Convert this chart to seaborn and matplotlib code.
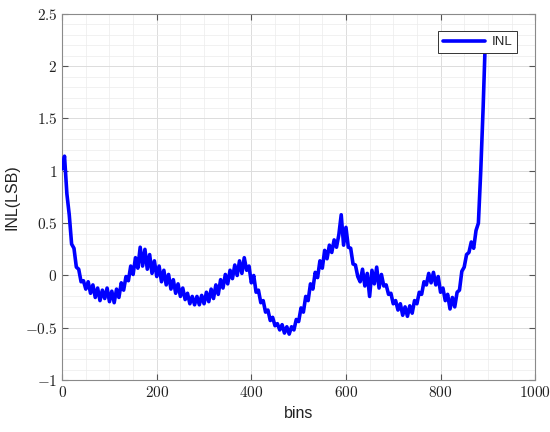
import matplotlib
matplotlib.use("Agg")
import matplotlib.pyplot as plt
import pandas as pd
import seaborn as sns
from matplotlib.ticker import FuncFormatter, MultipleLocator

# INL curve, every 5 bins (noise band kept as zig-zag)
bins = list(range(0, 900, 5))
inl = [
    1.02, 1.14, 0.78, 0.58, 0.30, 0.26, 0.08, 0.06, -0.06, -0.05,
    -0.13, -0.06, -0.17, -0.09, -0.21, -0.12, -0.24, -0.14, -0.22, -0.12,
    -0.25, -0.15, -0.26, -0.13, -0.21, -0.07, -0.14, -0.01, -0.05, 0.09,
    0.01, 0.17, 0.07, 0.27, 0.09, 0.25, 0.06, 0.20, 0.02, 0.14,
    -0.01, 0.09, -0.06, 0.05, -0.09, 0.01, -0.13, -0.04, -0.17, -0.08,
    -0.20, -0.12, -0.23, -0.17, -0.27, -0.20, -0.28, -0.20, -0.28, -0.19,
    -0.27, -0.16, -0.25, -0.13, -0.22, -0.09, -0.18, -0.04, -0.12, 0.01,
    -0.08, 0.05, -0.03, 0.10, 0.00, 0.14, 0.02, 0.17, 0.05, 0.09,
    -0.07, 0.00, -0.16, -0.14, -0.26, -0.24, -0.35, -0.33, -0.43, -0.40,
    -0.48, -0.46, -0.52, -0.47, -0.55, -0.49, -0.56, -0.49, -0.52, -0.42,
    -0.44, -0.31, -0.35, -0.20, -0.24, -0.08, -0.13, 0.03, -0.02, 0.14,
    0.07, 0.24, 0.16, 0.29, 0.22, 0.34, 0.27, 0.39, 0.58, 0.29,
    0.46, 0.27, 0.26, 0.11, 0.10, -0.01, -0.06, 0.06, -0.10, 0.02,
    -0.20, 0.05, -0.08, 0.08, -0.12, 0.01, -0.10, -0.09, -0.18, -0.17,
    -0.27, -0.24, -0.33, -0.27, -0.38, -0.30, -0.39, -0.29, -0.36, -0.24,
    -0.27, -0.16, -0.18, -0.06, -0.09, 0.02, -0.07, 0.03, -0.09, -0.01,
    -0.16, -0.12, -0.24, -0.18, -0.32, -0.21, -0.30, -0.16, -0.14, 0.04,
    0.08, 0.20, 0.22, 0.32, 0.26, 0.43, 0.50, 1.00, 1.60, 2.30,
]

df = pd.DataFrame({"bins": bins, "INL": inl})

sns.set_style("ticks")
plt.rcParams["font.family"] = ["Liberation Sans", "DejaVu Sans"]
plt.rcParams["mathtext.fontset"] = "cm"

fig = plt.figure(figsize=(5.5, 4.32), dpi=100)
ax = fig.add_axes([0.113, 0.12, 0.86, 0.848])

sns.lineplot(data=df, x="bins", y="INL", ax=ax, color="#0000ff", lw=2.6,
             label="INL", zorder=3)

ax.set_xlim(0, 1000)
ax.set_ylim(-1, 2.5)
ax.xaxis.set_major_locator(MultipleLocator(200))
ax.xaxis.set_minor_locator(MultipleLocator(50))
ax.yaxis.set_major_locator(MultipleLocator(0.5))
ax.yaxis.set_minor_locator(MultipleLocator(0.1))
fmt = FuncFormatter(lambda v, p: "$%g$" % v)
ax.xaxis.set_major_formatter(fmt)
ax.yaxis.set_major_formatter(fmt)

ax.grid(which="major", color="#dcdcdc", lw=0.7)
ax.grid(which="minor", color="#ececec", lw=0.5)
ax.set_axisbelow(True)
ax.tick_params(which="both", direction="in", top=True, right=True,
               color="#555555", labelsize=11, labelcolor="#222222")
ax.tick_params(which="major", length=4)
ax.tick_params(which="minor", length=0)
for s in ax.spines.values():
    s.set_color("#8a8a8a")
    s.set_linewidth(0.8)

ax.set_xlabel("bins", fontsize=11.5, color="#222222")
ax.set_ylabel("INL(LSB)", fontsize=11.5, color="#222222")

leg = ax.legend(loc="upper right", bbox_to_anchor=(0.975, 0.97), fontsize=9.5,
                frameon=True, fancybox=False, handlelength=3.2,
                borderpad=0.35, handletextpad=0.5)
leg.get_frame().set_edgecolor("#333333")
leg.get_frame().set_linewidth(0.7)
leg.get_frame().set_alpha(1)

fig.savefig("out.png", dpi=100)
